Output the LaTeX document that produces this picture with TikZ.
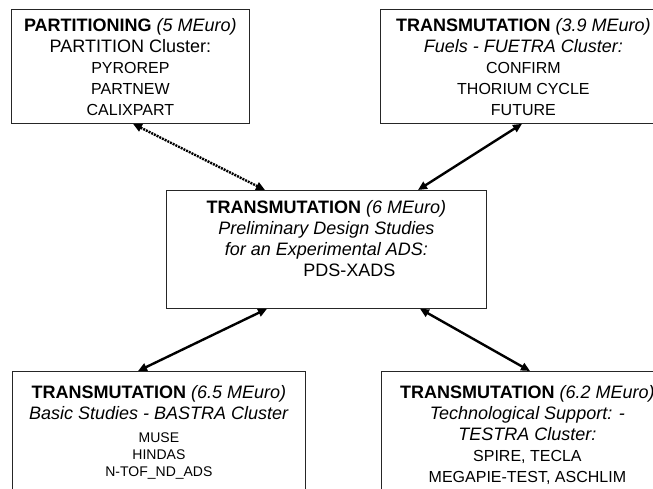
\documentclass[tikz,border=0pt]{standalone}
\usepackage{fontspec}
\setmainfont{Liberation Sans}
\usetikzlibrary{positioning, arrows.meta}

\begin{document}
\begin{tikzpicture}[
    x=1pt, y=1pt,
    frame_style/.style={draw=black!85, line width=0.8pt, inner sep=0pt, anchor=north west},
    text_style/.style={align=center, inner sep=0pt, anchor=north, font=\fontsize{18}{21}\selectfont},
    link_solid/.style={black, line width=2.4pt, {Triangle[length=9pt, width=8pt]}-{Triangle[length=9pt, width=8pt]}},
    link_dotted/.style={link_solid, dash pattern=on 2pt off 1pt}
]
    \def\itemline#1{{\fontsize{16}{21}\selectfont #1}}
    \def\smallitem#1{{\fontsize{14}{16.5}\selectfont #1}}

    % --- canvas, same size as the page ---
    \clip (0,0) rectangle (653,-488);

    % --- Frames ---
    \node[frame_style, minimum width=238pt, minimum height=114pt] (part) at (11,-9) {};
    \node[frame_style, minimum width=286pt, minimum height=114pt] (fuel) at (380,-9) {};
    \node[frame_style, minimum width=320pt, minimum height=118pt] (xads) at (166,-190) {};
    \node[frame_style, minimum width=293pt, minimum height=140pt] (bastra) at (12,-371) {};
    \node[frame_style, minimum width=292pt, minimum height=140pt] (testra) at (381,-371) {};

    % --- Texts ---
    \node[text_style, below=9pt of part.north] (partText) {
        \textbf{PARTITIONING} \textit{(5 MEuro)}\\
        PARTITION Cluster:\\
        \itemline{PYROREP}\\
        \itemline{PARTNEW}\\
        \itemline{CALIXPART}};
    \node[text_style, below=9pt of fuel.north] (fuelText) {
        \textbf{TRANSMUTATION} \textit{(3.9 MEuro)}\\
        \textit{Fuels - FUETRA Cluster:}\\
        \itemline{CONFIRM}\\
        \itemline{THORIUM CYCLE}\\
        \itemline{FUTURE}};
    \node[text_style, below=10pt of xads.north] (xadsText) {
        \textbf{TRANSMUTATION} \textit{(6 MEuro)}\\
        \textit{Preliminary Design Studies}\\
        \textit{for an Experimental ADS:}\\
        \hspace*{46pt}PDS-XADS};
    \node[text_style, below=14pt of bastra.north] (bastraText) {
        \textbf{TRANSMUTATION} \textit{(6.5 MEuro)}\\
        \textit{Basic Studies - BASTRA Cluster}\\[2pt]
        \smallitem{MUSE}\\[-4pt]
        \smallitem{HINDAS}\\[-4pt]
        \smallitem{N-TOF\_ND\_ADS}};
    \node[text_style, below=14pt of testra.north] (testraText) {
        \textbf{TRANSMUTATION} \textit{(6.2 MEuro)}\\
        \textit{Technological Support: -}\\
        \textit{TESTRA Cluster:}\\
        \itemline{SPIRE, TECLA}\\
        \itemline{MEGAPIE-TEST, ASCHLIM}};

    % --- Links ---
    \draw[link_dotted] ([xshift=122pt]part.south west) -- ([xshift=99pt]xads.north west);
    \draw[link_solid] ([xshift=142pt]fuel.south west) -- ([xshift=252pt]xads.north west);
    \draw[link_solid] ([xshift=101pt]xads.south west) -- ([xshift=126pt]bastra.north west);
    \draw[link_solid] ([xshift=254pt]xads.south west) -- ([xshift=149pt]testra.north west);

\end{tikzpicture}
\end{document}
